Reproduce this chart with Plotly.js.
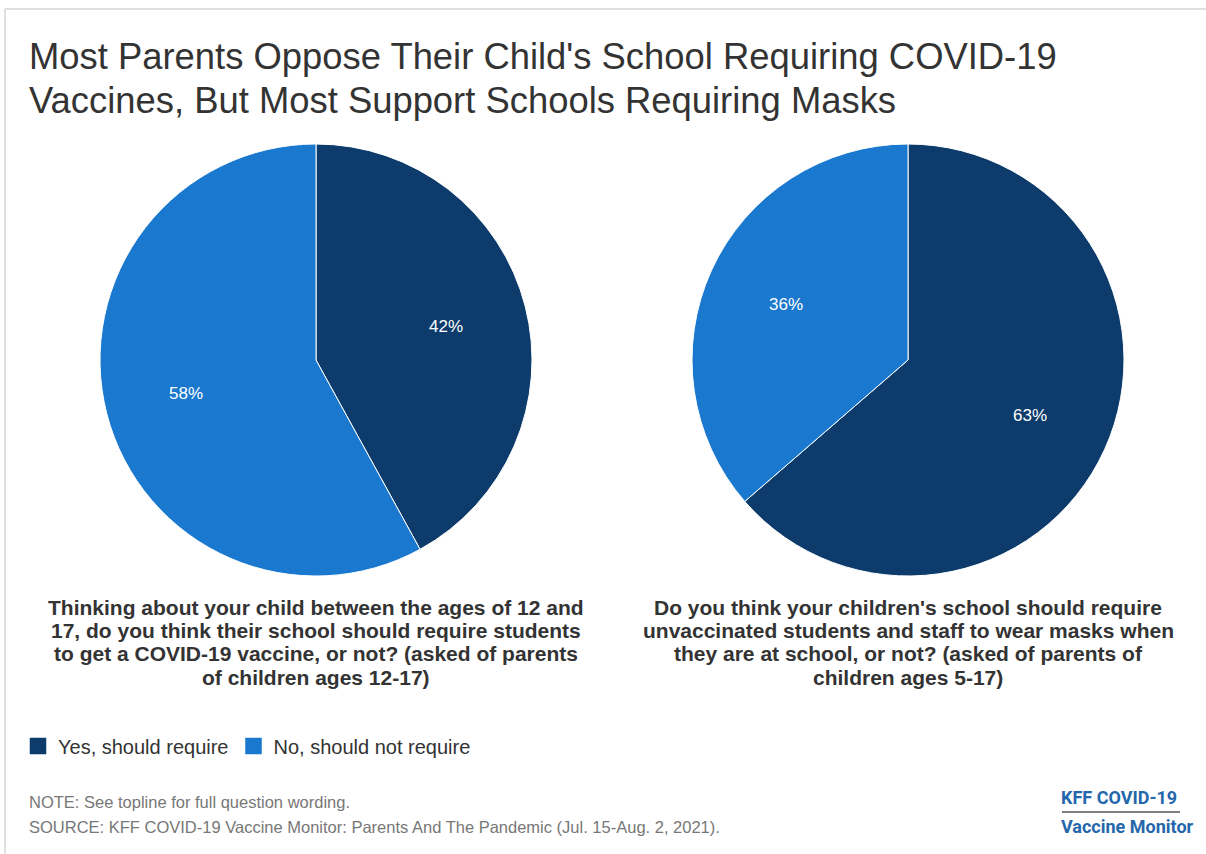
<!DOCTYPE html>
<html>
<head>
<meta charset="utf-8">
<script src="https://cdn.plot.ly/plotly-3.0.1.min.js"></script>
<style>
html,body{margin:0;padding:0;background:#fff;}
#chart{width:1206px;height:854px;}
#chart path.legendpie{transform:translate(20px,0px) scale(1.5);}
</style>
</head>
<body>
<div id="chart"></div>
<script>
// ---- data ----
const labels = ["Yes, should require", "No, should not require"];
const vaccineValues = [42, 58];
const maskValues = [63, 36];
const colors = ["#0c3b6c", "#1a78cf"];
const titleLines = [
  "Most Parents Oppose Their Child's School Requiring COVID-19",
  "Vaccines, But Most Support Schools Requiring Masks"
];
const question1Lines = [
  "Thinking about your child between the ages of 12 and",
  "17, do you think their school should require students",
  "to get a COVID-19 vaccine, or not? (asked of parents",
  "of children ages 12-17)"
];
const question2Lines = [
  "Do you think your children's school should require",
  "unvaccinated students and staff to wear masks when",
  "they are at school, or not? (asked of parents of",
  "children ages 5-17)"
];
const footerLines = [
  "NOTE: See topline for full question wording.",
  "SOURCE: KFF COVID-19 Vaccine Monitor: Parents And The Pandemic (Jul. 15-Aug. 2, 2021)."
];
const logoLines = ["KFF COVID-19", "Vaccine Monitor"];

// ---- layout helpers ----
const W = 1206, H = 854;
const px = x => x / W;
const py = y => 1 - y / H;
const R = 216, CY = 360;
const pies = [
  {values: vaccineValues, cx: 316, question: question1Lines, legend: true},
  {values: maskValues, cx: 908, question: question2Lines, legend: false}
];
const FONT = "Liberation Sans, Arial, sans-serif";

const data = pies.map(p => ({
  type: "pie",
  labels: labels,
  values: p.values,
  sort: false,
  direction: "clockwise",
  rotation: 0,
  marker: {colors: colors, line: {color: "#ffffff", width: 1}},
  textinfo: "none",
  hoverinfo: "none",
  showlegend: p.legend,
  domain: {x: [px(p.cx - R), px(p.cx + R)], y: [py(CY + R), py(CY - R)]}
}));

const annotations = [];
function addText(text, x, y, size, opts) {
  annotations.push(Object.assign({
    text: text, x: px(x), y: py(y), xref: "paper", yref: "paper",
    xanchor: "left", yanchor: "middle", showarrow: false,
    font: {family: FONT, size: size, color: "#333333"}
  }, opts || {}));
}

// slice value labels, placed along each slice's middle angle
pies.forEach(p => {
  const total = p.values.reduce((a, b) => a + b, 0);
  let cum = 0;
  p.values.forEach(v => {
    const mid = (cum + v / 2) / total * 2 * Math.PI;
    cum += v;
    const rr = 0.62 * R;
    addText(v + "%", p.cx + rr * Math.sin(mid), CY - rr * Math.cos(mid), 17,
      {xanchor: "center", font: {family: FONT, size: 17, color: "#ffffff"}});
  });
});

titleLines.forEach((t, i) => addText(t, 27, 57 + i * 43, 36.4));
pies.forEach(p => p.question.forEach((t, i) =>
  addText("<b>" + t + "</b>", p.cx, 607 + i * 23.4, 21, {xanchor: "center"})));
footerLines.forEach((t, i) => addText(t, 27, 802 + i * 25, 16.5,
  {font: {family: FONT, size: 16.5, color: "#777777"}}));
logoLines.forEach((t, i) => addText("<b>" + t + "</b>", 1059, 797 + i * 29, 18,
  {font: {family: "Roboto, sans-serif", size: 18, color: "#2467ab"}}));

const layout = {
  width: W, height: H,
  margin: {l: 0, r: 0, t: 0, b: 0},
  paper_bgcolor: "#ffffff",
  font: {family: FONT, color: "#333333"},
  showlegend: true,
  legend: {
    orientation: "h", x: px(18), y: py(746), xanchor: "left", yanchor: "middle",
    font: {size: 20, color: "#333333"}, traceorder: "normal", itemclick: false
  },
  annotations: annotations,
  shapes: [
    {type: "line", xref: "paper", yref: "paper", x0: px(1062), x1: px(1180), y0: py(812), y1: py(812), line: {color: "#555555", width: 1.5}},
    {type: "line", xref: "paper", yref: "paper", x0: px(5), x1: 1, y0: py(9), y1: py(9), line: {color: "#e0e0e0", width: 2}},
    {type: "line", xref: "paper", yref: "paper", x0: px(5), x1: px(5), y0: py(9), y1: 0, line: {color: "#e0e0e0", width: 2}}
  ]
};

Plotly.newPlot("chart", data, layout, {displayModeBar: false, staticPlot: true});
</script>
</body>
</html>
